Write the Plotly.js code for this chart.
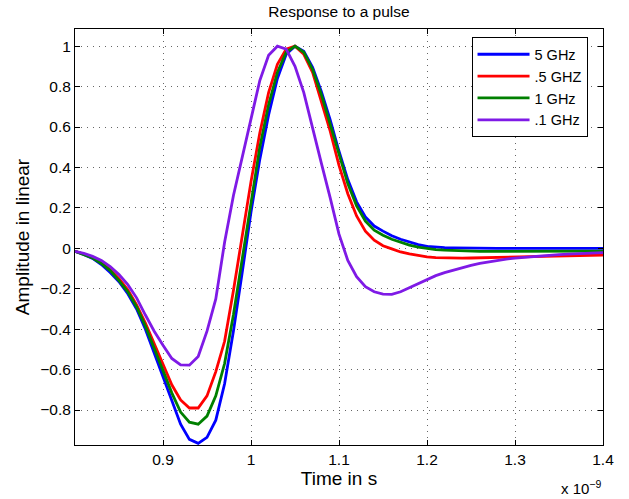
<!DOCTYPE html>
<html>
<head>
<meta charset="utf-8">
<script src="https://cdn.plot.ly/plotly-3.0.1.min.js"></script>
<style>html,body{margin:0;padding:0;background:#fff;}#chart{width:629px;height:499px;}</style>
</head>
<body>
<div id="chart"></div>
<script>
// time in units of 1e-9 s
var timeNs = [0.80,0.81,0.82,0.83,0.84,0.85,0.86,0.87,0.88,0.89,
  0.90,0.91,0.92,0.93,0.94,0.95,0.96,0.97,0.98,0.99,
  1.00,1.01,1.02,1.03,1.04,1.05,1.06,1.07,1.08,1.09,
  1.10,1.11,1.12,1.13,1.14,1.15,1.16,1.17,1.18,1.19,
  1.20,1.21,1.22,1.23,1.24,1.25,1.26,1.27,1.28,1.29,
  1.30,1.31,1.32,1.33,1.34,1.35,1.36,1.37,1.38,1.39,1.40];

var seriesNames = ['5 GHz', '.5 GHZ', '1 GHz', '.1 GHz'];

var amp5GHz = [-0.015,-0.03,-0.05,-0.08,-0.12,-0.165,-0.225,-0.30,-0.40,-0.52,
  -0.64,-0.76,-0.87,-0.945,-0.965,-0.935,-0.85,-0.67,-0.41,-0.12,
  0.18,0.44,0.66,0.84,0.96,1.0,0.975,0.895,0.775,0.635,
  0.48,0.34,0.23,0.155,0.11,0.085,0.062,0.045,0.03,0.018,
  0.01,0.005,0.003,0.002,0.001,0,0,0,0,0,
  0,0,0,0,0,0,0,0,0,0,0];

var amp05GHz = [-0.015,-0.028,-0.045,-0.07,-0.105,-0.15,-0.205,-0.28,-0.37,-0.47,
  -0.57,-0.675,-0.75,-0.79,-0.79,-0.73,-0.61,-0.46,-0.21,0.06,
  0.33,0.57,0.77,0.91,0.985,1.0,0.96,0.87,0.73,0.58,
  0.41,0.27,0.16,0.085,0.04,0.013,-0.003,-0.018,-0.028,-0.036,
  -0.042,-0.046,-0.048,-0.049,-0.049,-0.048,-0.047,-0.046,-0.045,-0.044,
  -0.043,-0.042,-0.041,-0.040,-0.039,-0.038,-0.037,-0.036,-0.035,-0.034,-0.033];

var amp1GHz = [-0.015,-0.03,-0.048,-0.075,-0.11,-0.16,-0.215,-0.29,-0.385,-0.495,
  -0.605,-0.715,-0.81,-0.86,-0.87,-0.83,-0.73,-0.57,-0.33,-0.05,
  0.24,0.50,0.71,0.87,0.97,1.0,0.97,0.885,0.76,0.615,
  0.46,0.32,0.21,0.135,0.09,0.065,0.045,0.03,0.016,0.006,
  -0.001,-0.006,-0.009,-0.011,-0.013,-0.014,-0.015,-0.015,-0.015,-0.015,
  -0.015,-0.015,-0.015,-0.015,-0.014,-0.014,-0.014,-0.014,-0.014,-0.014,-0.014];

var amp01GHz = [-0.015,-0.025,-0.04,-0.06,-0.09,-0.13,-0.18,-0.245,-0.33,-0.41,
  -0.48,-0.545,-0.577,-0.578,-0.535,-0.41,-0.25,0.03,0.26,0.45,
  0.63,0.83,0.955,1.0,0.985,0.90,0.77,0.59,0.42,0.25,
  0.07,-0.06,-0.14,-0.19,-0.215,-0.227,-0.228,-0.215,-0.195,-0.172,
  -0.152,-0.135,-0.12,-0.107,-0.095,-0.084,-0.074,-0.066,-0.059,-0.053,
  -0.048,-0.044,-0.040,-0.037,-0.034,-0.031,-0.029,-0.027,-0.025,-0.023,-0.021];

var seriesColors = ['#0000FF', '#FF0000', '#008000', '#7F1AE6'];
var seriesValues = [amp5GHz, amp05GHz, amp1GHz, amp01GHz];

var xTickVals = [0.9, 1.0, 1.1, 1.2, 1.3, 1.4];
var xTickText = ['0.9', '1', '1.1', '1.2', '1.3', '1.4'];
var yTickVals = [-0.8, -0.6, -0.4, -0.2, 0, 0.2, 0.4, 0.6, 0.8, 1];
var yTickText = ['\u22120.8', '\u22120.6', '\u22120.4', '\u22120.2', '0', '0.2', '0.4', '0.6', '0.8', '1'];

var traces = seriesValues.map(function (vals, i) {
  return {
    x: timeNs, y: vals, type: 'scatter', mode: 'lines',
    name: seriesNames[i],
    line: {color: seriesColors[i], width: 2.8}
  };
});

var fontFam = 'Liberation Sans, Arial, Helvetica, sans-serif';
var axisCommon = {
  showline: true, linecolor: '#000', linewidth: 1, mirror: 'ticks',
  ticks: 'inside', ticklen: 5, tickcolor: '#000', tickwidth: 1,
  showgrid: true, gridcolor: '#666', gridwidth: 1, griddash: '1px,5px',
  zeroline: false, automargin: false,
  tickfont: {family: fontFam, size: 15.5, color: '#000'}
};

var layout = {
  width: 629, height: 499,
  margin: {l: 75, r: 26, t: 29, b: 54},
  paper_bgcolor: '#fff', plot_bgcolor: '#fff',
  font: {family: fontFam, color: '#000'},
  title: {text: 'Response to a pulse', font: {family: fontFam, size: 15.5, color: '#000'},
    x: 0.5, xanchor: 'center', y: 0.976, yanchor: 'middle', xref: 'paper', yref: 'container'},
  xaxis: Object.assign({}, axisCommon, {
    range: [0.8, 1.4], tickmode: 'array', tickvals: xTickVals, ticktext: xTickText,
    title: {text: 'Time in s', font: {family: fontFam, size: 19, color: '#000'}, standoff: 3}
  }),
  yaxis: Object.assign({}, axisCommon, {
    range: [-0.973, 1.085], tickmode: 'array', tickvals: yTickVals, ticktext: yTickText,
    title: {text: 'Amplitude in linear', font: {family: fontFam, size: 19, color: '#000'}, standoff: 5}
  }),
  legend: {
    x: 0.751, y: 0.98, xanchor: 'left', yanchor: 'top',
    bgcolor: '#fff', bordercolor: '#000', borderwidth: 1,
    font: {family: fontFam, size: 14.5, color: '#000'},
    itemwidth: 52, tracegroupgap: 0
  },
  annotations: [{
    text: 'x 10<sup>\u22129</sup>', xref: 'paper', yref: 'paper',
    x: 1.0, y: -0.075, xanchor: 'right', yanchor: 'top', showarrow: false,
    font: {family: fontFam, size: 15, color: '#000'}
  }]
};

Plotly.newPlot('chart', traces, layout, {displayModeBar: false, staticPlot: true});
</script>
</body>
</html>
